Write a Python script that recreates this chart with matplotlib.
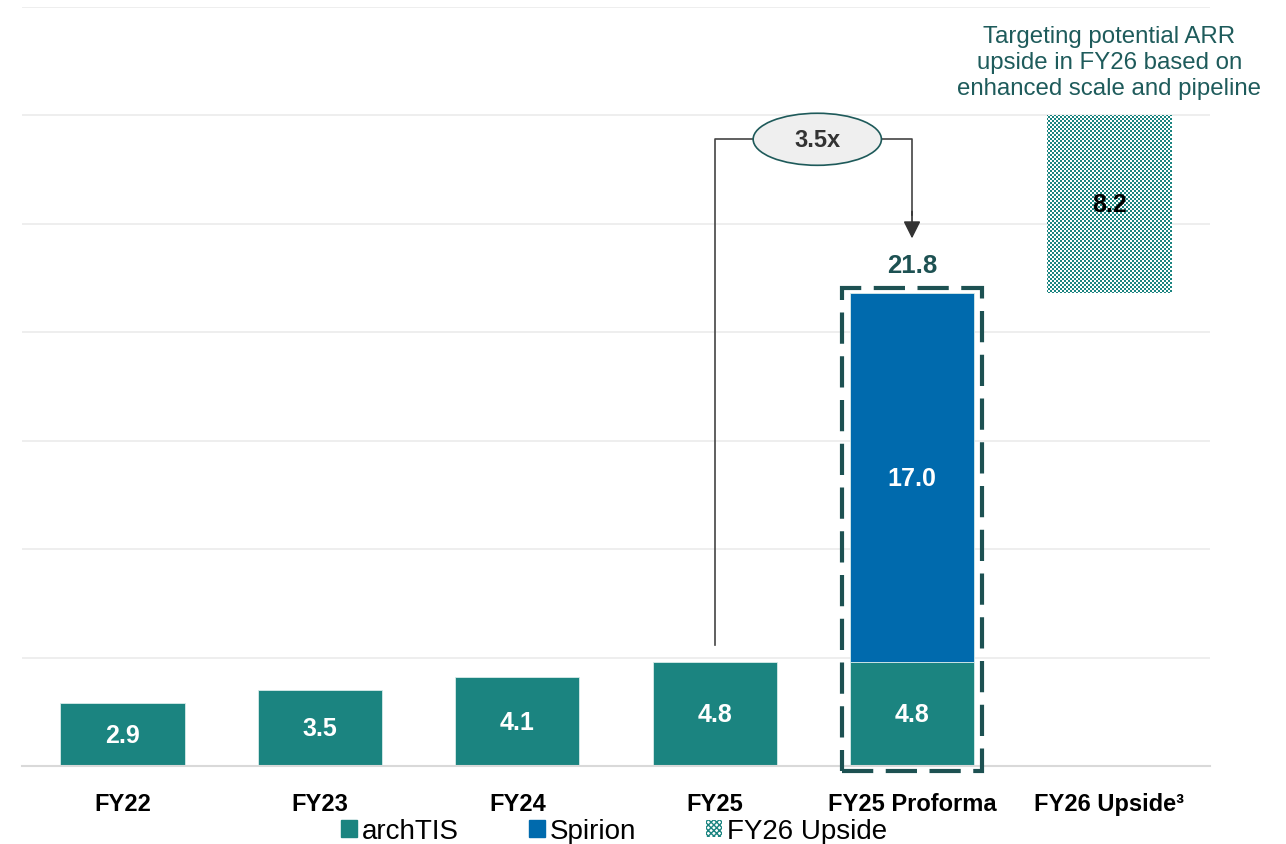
import numpy as np
import matplotlib.pyplot as plt
from matplotlib.patches import Patch, Ellipse, Rectangle
from matplotlib.colors import ListedColormap

plt.rcParams['font.family'] = ['Liberation Sans', 'DejaVu Sans']

# ARR by year (A$m)
categories = ["FY22", "FY23", "FY24", "FY25", "FY25 Proforma", "FY26 Upside\u00b3"]
archtis = [2.9, 3.5, 4.1, 4.8, 4.8, 0.0]
spirion = [0.0, 0.0, 0.0, 0.0, 17.0, 0.0]
upside = [0.0, 0.0, 0.0, 0.0, 0.0, 8.2]
legend_labels = ["archTIS", "Spirion", "FY26 Upside"]
growth_label = "3.5x"
note = "Targeting potential ARR\nupside in FY26 based on\nenhanced scale and pipeline"

TEAL = "#1b8480"
BLUE = "#006aad"
DARK = "#1d5152"

fig = plt.figure(figsize=(12.86, 8.45), dpi=100)
ax = fig.add_axes([22 / 1286, 78 / 845, 1188 / 1286, 759 / 845])

x = np.arange(len(categories))
w = 0.63
archtis = np.array(archtis)
spirion = np.array(spirion)
upside = np.array(upside)
total = archtis + spirion

# stacked bars
m = archtis > 0
ax.bar(x[m], archtis[m], w, color=TEAL, edgecolor="#d8ecea", lw=0.6, zorder=2)
m2 = spirion > 0
ax.bar(x[m2], spirion[m2], w, bottom=archtis[m2], color=BLUE, edgecolor="#d8ecea", lw=0.6, zorder=2)

for xi, a in zip(x[m], archtis[m]):
    ax.text(xi, a / 2, f"{a:.1f}", ha="center", va="center", color="white",
            fontsize=18, fontweight="bold", zorder=3)
for xi, a, s in zip(x[m2], archtis[m2], spirion[m2]):
    ax.text(xi, a + s / 2, f"{s:.1f}", ha="center", va="center", color="white",
            fontsize=18, fontweight="bold", zorder=3)

ax.set_xlim(-0.51, 5.51)
ax.set_ylim(0, 35)

# floating upside bar on top of the proforma total, checkerboard fill
pro = 4
m3 = upside > 0
base = total[pro]
ups = ax.bar(x[m3], upside[m3], w, bottom=base, color="none", lw=0, zorder=2)
inv = ax.transData.inverted()
for xi, u, rect in zip(x[m3], upside[m3], ups.patches):
    # snap image to whole pixels so the 2px checker has no moire
    p0 = np.round(ax.transData.transform((xi - w / 2, base))) - 1
    p1 = np.round(ax.transData.transform((xi + w / 2, base + u))) + 1
    nx = int(p1[0] - p0[0])
    ny = int(p1[1] - p0[1])
    jj, ii = np.meshgrid(np.arange(nx), np.arange(ny))
    checker = ((ii // 2) + (jj // 2)) % 2
    d0 = inv.transform(p0)
    d1 = inv.transform(p1)
    im = ax.imshow(checker, extent=(d0[0], d1[0], d0[1], d1[1]), origin="lower",
                   cmap=ListedColormap(["white", TEAL]), aspect="auto",
                   interpolation="nearest", zorder=2)
    im.set_clip_path(rect)
    ax.text(xi, base + u / 2, f"{u:.1f}", ha="center", va="center", color="black",
            fontsize=18, fontweight="bold", zorder=3)
ax.set_xlim(-0.51, 5.51)
ax.set_ylim(0, 35)

# total label + dashed box around proforma
ax.text(x[pro], total[pro] + 1.3, f"{total[pro]:.1f}", ha="center", va="center",
        color=DARK, fontsize=18.5, fontweight="bold")
ax.add_patch(Rectangle((x[pro] - 0.353, -0.23), 0.706, total[pro] + 0.45, fill=False,
                       ec=DARK, lw=3, ls=(0, (7.5, 3)), clip_on=False, zorder=4))

# growth connector
yc = 28.9
ex, ew = 3.52, 0.65
ax.plot([x[3], x[3], ex - ew / 2], [total[3] + 0.8, yc, yc], color="#444444", lw=1.2, zorder=3)
ax.plot([ex + ew / 2, x[pro], x[pro]], [yc, yc, 25.4], color="#444444", lw=1.2, zorder=3)
ax.annotate("", xy=(x[pro], 24.2), xytext=(x[pro], 25.7),
            arrowprops=dict(arrowstyle="-|>", color="#333333", lw=1.2, mutation_scale=26))
ax.add_patch(Ellipse((ex, yc), ew, 2.4, fc="#efefef", ec="#1e5a5a", lw=1.2, zorder=4))
ax.text(ex, yc, growth_label, ha="center", va="center", color="#333333",
        fontsize=17, fontweight="bold", zorder=5)

ax.text(x[5], 32.45, note, ha="center", va="center", color="#1e5b5b",
        fontsize=17.3, linespacing=1.23)

# axes styling
ax.set_yticks(np.arange(5, 36, 5))
ax.grid(axis="y", color="#ebebeb", lw=1.2)
ax.set_axisbelow(True)
for s in ["top", "right", "left"]:
    ax.spines[s].set_visible(False)
ax.spines["bottom"].set_color("#d9d9d9")
ax.spines["bottom"].set_linewidth(1.5)
ax.tick_params(left=False, labelleft=False, bottom=False, pad=15)
ax.set_xticks(x, categories, fontsize=17, fontweight="bold")

handles = [Patch(color=TEAL), Patch(color=BLUE),
           Patch(fc="white", ec=TEAL, hatch="xxxxxx", lw=0)]
fig.legend(handles, legend_labels, loc="center", bbox_to_anchor=(614 / 1286, 1 - 832 / 845),
           ncol=3, frameon=False, fontsize=20, handlelength=0.58, handleheight=0.58,
           handletextpad=0.18, columnspacing=2.5)

fig.savefig("out.png", dpi=100)
